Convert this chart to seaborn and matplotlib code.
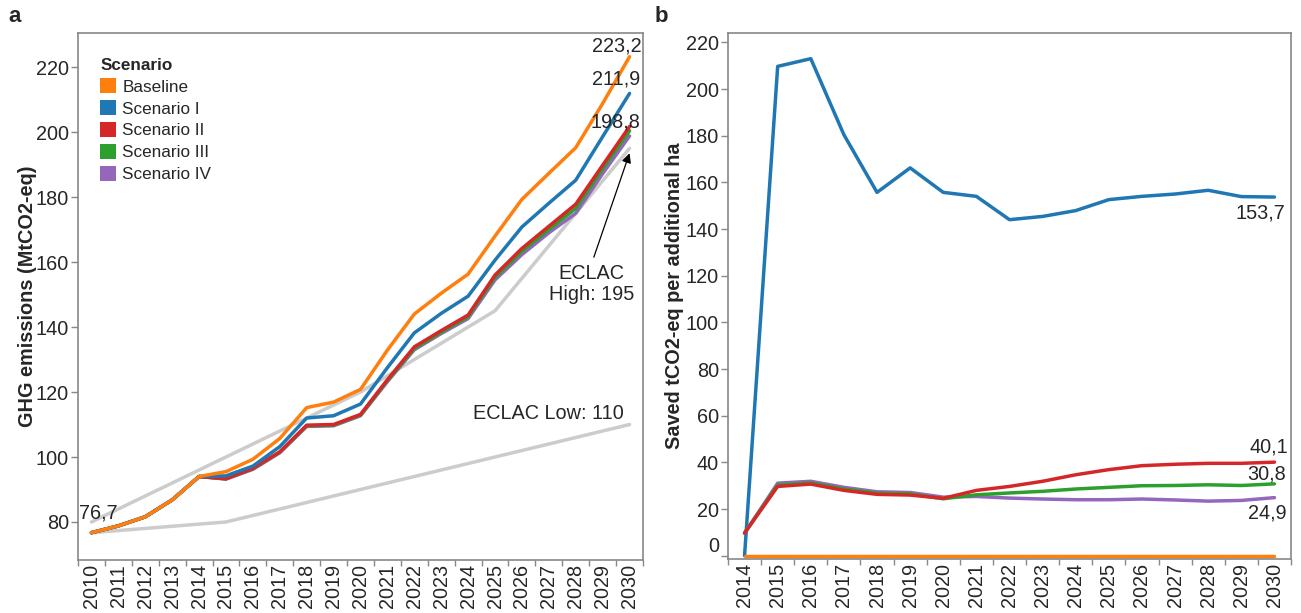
import matplotlib
matplotlib.use("Agg")
import matplotlib.pyplot as plt
from matplotlib.patches import Patch
import numpy as np
import pandas as pd
import seaborn as sns

# ---------------- data: panel a ----------------
years_a = list(range(2010, 2031))
baseline_a = [76.7, 78.8, 81.6, 86.8, 94.0, 95.5, 99.3, 105.7, 115.2, 116.9, 120.8,
              132.9, 144.0, 150.4, 156.3, 168.0, 179.3, 187.3, 195.2, 208.8, 223.2]
scen1_a = [76.7, 78.8, 81.6, 86.8, 94.0, 94.2, 97.2, 103.2, 112.0, 112.7, 116.3,
           127.5, 138.2, 144.2, 149.5, 160.6, 170.8, 178.1, 185.2, 198.6, 211.9]
scen2_a = [76.7, 78.8, 81.6, 86.8, 94.0, 93.3, 96.5, 101.6, 109.8, 110.0, 113.1,
           123.8, 133.9, 138.9, 143.7, 156.0, 164.2, 171.0, 177.8, 189.8, 201.7]
scen3_a = [76.7, 78.8, 81.6, 86.8, 94.0, 93.3, 96.4, 101.5, 109.6, 109.8, 112.9,
           123.5, 133.4, 138.4, 143.2, 155.3, 163.3, 170.0, 176.5, 188.7, 200.4]
scen4_a = [76.7, 78.8, 81.6, 86.8, 94.0, 93.2, 96.2, 101.3, 109.4, 109.6, 112.7,
           123.2, 133.0, 138.0, 142.6, 154.5, 162.3, 169.0, 175.0, 187.2, 198.8]
eclac_years = [2010, 2015, 2020, 2025, 2030]
eclac_high = [80, 100, 120, 145, 195]
eclac_low = [76.7, 80, 90, 100, 110]

# ---------------- data: panel b ----------------
years_b = list(range(2014, 2031))
baseline_b = [0, 0, 0, 0, 0, 0, 0, 0, 0, 0, 0, 0, 0, 0, 0, 0, 0]
scen1_b = [0, 209.7, 213.0, 180.4, 155.7, 166.2, 155.7, 154.0, 144.0, 145.4, 147.9,
           152.6, 154.0, 155.0, 156.6, 153.9, 153.7]
scen2_b = [9.7, 29.7, 30.7, 28.0, 26.3, 26.0, 24.6, 28.0, 29.7, 31.9, 34.7,
           36.9, 38.6, 39.2, 39.6, 39.6, 40.1]
scen3_b = [9.7, 30.3, 31.2, 28.6, 26.8, 26.5, 24.4, 26.1, 26.9, 27.6, 28.6,
           29.3, 30.0, 30.1, 30.4, 30.1, 30.8]
scen4_b = [9.7, 31.1, 31.9, 29.3, 27.4, 27.1, 25.1, 25.4, 24.7, 24.3, 24.0,
           24.0, 24.3, 23.9, 23.4, 23.7, 24.9]

scenarios = ["Baseline", "Scenario I", "Scenario II", "Scenario III", "Scenario IV"]
colors = ["#ff7f0e", "#1f77b4", "#d62728", "#2ca02c", "#9467bd"]
palette = dict(zip(scenarios, colors))
draw_order = ["Scenario IV", "Scenario III", "Scenario II", "Scenario I", "Baseline"]

df_a = pd.DataFrame({
    "year": years_a * 5,
    "value": baseline_a + scen1_a + scen2_a + scen3_a + scen4_a,
    "scenario": sum([[s] * len(years_a) for s in scenarios], []),
})
df_b = pd.DataFrame({
    "year": years_b * 5,
    "value": baseline_b + scen1_b + scen2_b + scen3_b + scen4_b,
    "scenario": sum([[s] * len(years_b) for s in scenarios], []),
})
df_e = pd.DataFrame({
    "year": eclac_years * 2,
    "value": eclac_high + eclac_low,
    "ref": ["High"] * 5 + ["Low"] * 5,
})

sns.set_theme(style="white")
plt.rcParams["font.family"] = ["Liberation Sans", "DejaVu Sans"]

fig = plt.figure(figsize=(13.01, 6.13), dpi=100)
ax1 = fig.add_axes([78 / 1301, 53 / 613, 565 / 1301, 527 / 613])
ax2 = fig.add_axes([728 / 1301, 54 / 613, 563 / 1301, 526 / 613])

LW = 2.5
SPINE = "#888888"
FS = 14.3

# panel a
for ref in ["High", "Low"]:
    sns.lineplot(data=df_e[df_e.ref == ref], x="year", y="value", color="#cccccc",
                 lw=LW, ax=ax1, legend=False, estimator=None)
for s in draw_order:
    sns.lineplot(data=df_a[df_a.scenario == s], x="year", y="value", color=palette[s],
                 lw=LW, ax=ax1, legend=False, estimator=None)

# panel b
for s in ["Scenario I", "Baseline", "Scenario IV", "Scenario III", "Scenario II"]:
    sns.lineplot(data=df_b[df_b.scenario == s], x="year", y="value", color=palette[s],
                 lw=LW, ax=ax2, legend=False, estimator=None)


def style(ax, yrs, ylim, yticks, ylabel, labelpad):
    ax.set_xlim(yrs[0] - 0.5, yrs[-1] + 0.5)
    ax.set_ylim(*ylim)
    ax.set_xticks(yrs)
    ax.set_xticklabels([str(y) for y in yrs], rotation=90, fontsize=FS, va="top")
    ax.set_xticks([y - 0.5 for y in yrs] + [yrs[-1] + 0.5], minor=True)
    ax.set_yticks(yticks)
    ax.set_yticklabels([str(t) for t in yticks], fontsize=FS)
    ax.tick_params(axis="x", which="major", length=0, pad=3)
    ax.tick_params(axis="x", which="minor", length=4, width=1, color=SPINE, bottom=True)
    ax.tick_params(axis="y", length=5, width=1, color=SPINE, left=True, pad=1.5)
    for sp in ax.spines.values():
        sp.set_color(SPINE)
        sp.set_linewidth(1.2)
        sp.set_visible(True)
    ax.set_xlabel("")
    ax.set_ylabel(ylabel, fontsize=FS, fontweight="bold", labelpad=labelpad)
    ax.grid(False)


style(ax1, years_a, (68.3, 230.5), list(range(80, 221, 20)), "GHG emissions (MtCO2-eq)", -1)
style(ax2, years_b, (-1.4, 224), list(range(0, 221, 20)), "Saved tCO2-eq per additional ha", 1)
# zero label sits just above its tick, as in the reference
ax2.get_yticklabels()[0].set_verticalalignment("bottom")

# annotations panel a
ax1.text(2030.45, 226.5, "223,2", ha="right", va="center", fontsize=FS)
ax1.text(2030.4, 216.3, "211,9", ha="right", va="center", fontsize=FS)
ax1.text(2030.4, 203.2, "198,8", ha="right", va="center", fontsize=FS)
ax1.text(2009.55, 82.7, "76,7", ha="left", va="center", fontsize=FS)
ax1.text(2027.0, 113.4, "ECLAC Low: 110", ha="center", va="center", fontsize=FS)
ax1.annotate("ECLAC\nHigh: 195", xy=(2030.0, 193.5), xytext=(2028.58, 153.2),
             ha="center", va="center", fontsize=FS, linespacing=1.1,
             arrowprops=dict(arrowstyle="-|>", color="black", lw=0.9, relpos=(0.5, 1.0),
                             shrinkA=3, shrinkB=0, mutation_scale=14))

# annotations panel b
ax2.text(2030.32, 146.9, "153,7", ha="right", va="center", fontsize=FS)
ax2.text(2030.41, 46.8, "40,1", ha="right", va="center", fontsize=FS)
ax2.text(2030.35, 35.1, "30,8", ha="right", va="center", fontsize=FS)
ax2.text(2030.36, 18.3, "24,9", ha="right", va="center", fontsize=FS)

# legend
handles = [Patch(facecolor=c, edgecolor="none", label=s) for s, c in zip(scenarios, colors)]
leg = ax1.legend(handles=handles, title="Scenario", loc="upper left",
                 bbox_to_anchor=(0.027, 0.966), frameon=False, fontsize=12.3,
                 title_fontproperties={"weight": "bold", "size": 12.3},
                 handlelength=0.95, handleheight=0.95, handletextpad=0.35,
                 labelspacing=0.33, borderaxespad=0, alignment="left")

# panel letters
fig.text(8 / 1301, 1 - 17 / 613, "a", fontsize=16, fontweight="bold", va="center", ha="left")
fig.text(655 / 1301, 1 - 17 / 613, "b", fontsize=16, fontweight="bold", va="center", ha="left")

fig.savefig("out.png", dpi=100)
